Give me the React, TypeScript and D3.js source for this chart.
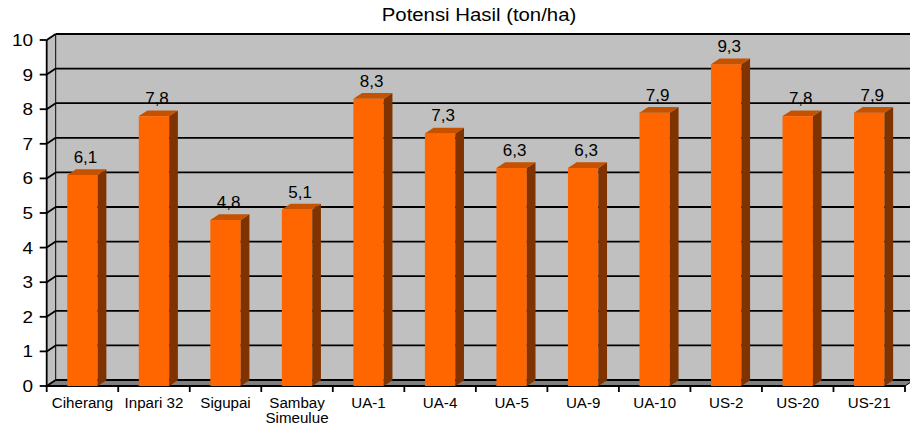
import React from "react";
import { scaleLinear, scaleBand, range } from "d3";

const categories = [
  ["Ciherang"],
  ["Inpari 32"],
  ["Sigupai"],
  ["Sambay", "Simeulue"],
  ["UA-1"],
  ["UA-4"],
  ["UA-5"],
  ["UA-9"],
  ["UA-10"],
  ["US-2"],
  ["US-20"],
  ["US-21"],
];
const values = [6.1, 7.8, 4.8, 5.1, 8.3, 7.3, 6.3, 6.3, 7.9, 9.3, 7.8, 7.9];
const yTicks = [0, 1, 2, 3, 4, 5, 6, 7, 8, 9, 10];
const title = "Potensi Hasil (ton/ha)";

const W = 910;
const H = 426;
const left = 46.7;
const right = 905;
const top = 40;
const bottom = 386;
const dx = 9; // depth of the walls
const dy = 6;
const font = "'Liberation Sans', Arial, sans-serif";

const fmt = (v) => v.toFixed(1).replace(".", ",");

const Txt = ({ x, y, size, anchor = "middle", sx = 1, children }) => (
  <text
    transform={`translate(${x},${y}) scale(${sx},1)`}
    fontSize={size}
    fontFamily={font}
    textAnchor={anchor}
    fill="#000"
  >
    {children}
  </text>
);

export default function App() {
  const y = scaleLinear().domain([0, 10]).range([bottom, top]);
  const x = scaleBand().domain(range(categories.length)).range([left, right]);
  const bw = 30.4;
  const bdx = 8.7;
  const bdy = 5.7;

  return (
    <svg
      width={W}
      height={H}
      style={{ position: "absolute", left: 0, top: 0, background: "#fff" }}
    >
      {/* back wall */}
      <rect
        x={left + dx}
        y={top - dy}
        width={right - left + 10}
        height={bottom - top}
        fill="#c0c0c0"
      />
      {/* side wall */}
      <polygon
        points={`${left},${top} ${left + dx},${top - dy} ${left + dx},${bottom - dy} ${left},${bottom}`}
        fill="#c0c0c0"
      />
      {/* floor */}
      <polygon
        points={`${left},${bottom} ${right},${bottom} ${right + dx},${bottom - dy} ${left + dx},${bottom - dy}`}
        fill="#808080"
      />
      {/* grid */}
      {yTicks.map((t) => (
        <g key={t} stroke="#000" strokeWidth={1.8} fill="none">
          <line x1={left + dx} x2={W + 10} y1={y(t) - dy} y2={y(t) - dy} />
          <line x1={left} x2={left + dx} y1={y(t)} y2={y(t) - dy} />
          <line x1={left - 7} x2={left} y1={y(t)} y2={y(t)} />
        </g>
      ))}
      <line x1={left + dx} x2={left + dx} y1={top - dy} y2={bottom - dy} stroke="#000" strokeWidth={1} />
      {/* axes */}
      <line x1={left} x2={left} y1={top} y2={bottom} stroke="#000" strokeWidth={1.8} />
      <line x1={left} x2={right} y1={bottom} y2={bottom} stroke="#000" strokeWidth={1.8} />
      <line x1={right} x2={right + dx} y1={bottom} y2={bottom - dy} stroke="#000" strokeWidth={1} />
      {range(categories.length + 1).map((i) => {
        const xx = left + i * x.bandwidth();
        return <line key={i} x1={xx} x2={xx} y1={bottom} y2={bottom + 6} stroke="#000" strokeWidth={1.8} />;
      })}
      {/* y tick labels */}
      {yTicks.map((t) => (
        <Txt key={t} x={33} y={y(t) + 6} size={16.5} anchor="end" sx={1.15}>
          {t}
        </Txt>
      ))}
      {/* bars */}
      {values.map((v, i) => {
        const cx = x(i) + x.bandwidth() / 2;
        const x0 = cx - bw / 2;
        const x1 = cx + bw / 2;
        const yt = y(v);
        return (
          <g key={i}>
            <rect x={x0} y={yt} width={bw} height={bottom - yt} fill="#ff6600" />
            <polygon
              points={`${x1},${yt} ${x1 + bdx},${yt - bdy} ${x1 + bdx},${bottom - bdy} ${x1},${bottom}`}
              fill="#7f3300"
            />
            <polygon
              points={`${x0},${yt} ${x1},${yt} ${x1 + bdx},${yt - bdy} ${x0 + bdx},${yt - bdy}`}
              fill="#c65200"
            />
            <Txt x={cx + 3} y={yt - bdy - 6.3} size={17}>
              {fmt(v)}
            </Txt>
          </g>
        );
      })}
      {/* category labels */}
      {categories.map((lines, i) => (
        <g key={i}>
          {lines.map((l, j) => (
            <Txt key={j} x={x(i) + x.bandwidth() / 2} y={408 + j * 15} size={14} sx={1.08}>
              {l}
            </Txt>
          ))}
        </g>
      ))}
      <Txt x={479} y={21} size={18.5} sx={1.1}>
        {title}
      </Txt>
    </svg>
  );
}
